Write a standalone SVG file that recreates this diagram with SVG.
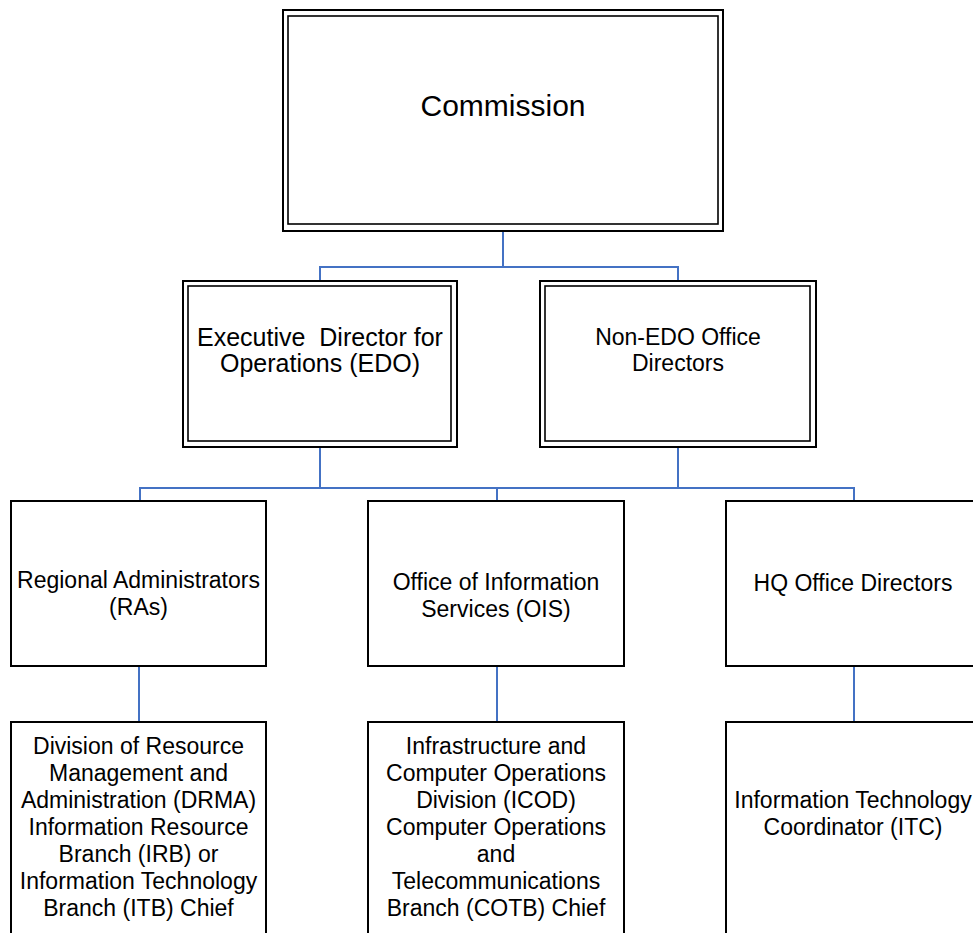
<svg xmlns="http://www.w3.org/2000/svg" width="973" height="933" viewBox="0 0 973 933">
<style>
.o{fill:none;stroke:#000;stroke-width:2}
.i{fill:none;stroke:#000;stroke-width:1.6}
.b{fill:#fff;stroke:#000;stroke-width:2}
.t{font-family:"Liberation Sans",Arial,sans-serif;font-size:23px;fill:#000;text-anchor:middle}
.c{fill:none;stroke:#4472C4;stroke-width:2}
</style>
<rect width="973" height="933" fill="#fff"/>
<g id="connectors">
<path class="c" d="M503,231V267M320,281V267H678V281"/>
<path class="c" d="M320,447V488M678,447V488M140,501V488H854V501M497,488V501"/>
<path class="c" d="M139,666V722M497,666V722M854,666V722"/>
</g>
<g id="commission">
<rect class="o" x="283" y="10" width="440" height="221" fill="#fff"/>
<rect class="i" x="288" y="16" width="430" height="208"/>
<text class="t" x="503" y="116" style="font-size:30px">Commission</text>
</g>
<g id="edo">
<rect class="o" x="183" y="281" width="274" height="166"/>
<rect class="i" x="188" y="286" width="263" height="155"/>
<text class="t" x="320" y="346" style="font-size:25px" xml:space="preserve">Executive  Director for</text>
<text class="t" x="320" y="372" style="font-size:25px">Operations (EDO)</text>
</g>
<g id="nonedo">
<rect class="o" x="540" y="281" width="276" height="166"/>
<rect class="i" x="545" y="286" width="265" height="155"/>
<text class="t" x="678" y="345">Non-EDO Office</text>
<text class="t" x="678" y="371">Directors</text>
</g>
<g id="ras">
<rect class="b" x="11" y="501" width="255" height="165"/>
<text class="t" x="138.5" y="588">Regional Administrators</text>
<text class="t" x="138.5" y="615">(RAs)</text>
</g>
<g id="ois">
<rect class="b" x="368" y="501" width="256" height="165"/>
<text class="t" x="496" y="590">Office of Information</text>
<text class="t" x="496" y="617">Services (OIS)</text>
</g>
<g id="hq">
<rect class="b" x="726" y="501" width="260" height="165"/>
<text class="t" x="853" y="591">HQ Office Directors</text>
</g>
<g id="drma">
<rect class="b" x="11" y="722" width="255" height="230"/>
<text class="t" x="138.5" y="754">Division of Resource</text>
<text class="t" x="138.5" y="781">Management and</text>
<text class="t" x="138.5" y="808">Administration (DRMA)</text>
<text class="t" x="138.5" y="835">Information Resource</text>
<text class="t" x="138.5" y="862">Branch (IRB) or</text>
<text class="t" x="138.5" y="889">Information Technology</text>
<text class="t" x="138.5" y="916">Branch (ITB) Chief</text>
</g>
<g id="icod">
<rect class="b" x="368" y="722" width="256" height="230"/>
<text class="t" x="496" y="754">Infrastructure and</text>
<text class="t" x="496" y="781">Computer Operations</text>
<text class="t" x="496" y="808">Division (ICOD)</text>
<text class="t" x="496" y="835">Computer Operations</text>
<text class="t" x="496" y="862">and</text>
<text class="t" x="496" y="889">Telecommunications</text>
<text class="t" x="496" y="916">Branch (COTB) Chief</text>
</g>
<g id="itc">
<rect class="b" x="726" y="722" width="260" height="230"/>
<text class="t" x="853" y="808">Information Technology</text>
<text class="t" x="853" y="835">Coordinator (ITC)</text>
</g>
</svg>
